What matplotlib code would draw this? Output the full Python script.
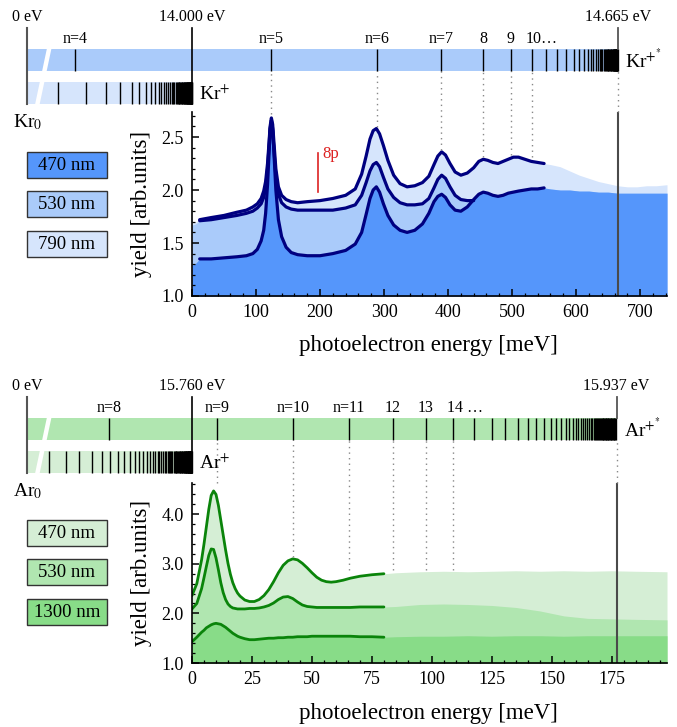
import matplotlib
matplotlib.use("Agg")
import matplotlib.pyplot as plt
from matplotlib.patches import Rectangle
from matplotlib.ticker import MultipleLocator, FormatStrFormatter

plt.rcParams['font.family'] = ['Liberation Serif', 'DejaVu Serif']
plt.rcParams['mathtext.fontset'] = 'stix'

W, H = 677, 727

# ---------------- Kr data (photoelectron energy in meV, yield) ----------------
kr_fit_e = [12, 30, 50, 70, 85, 95, 102, 108, 112, 115, 118, 120, 122, 124, 126,
            128, 131, 135, 140, 147, 155, 165, 180, 200, 220, 240, 255, 265, 272, 278,
            283, 288, 293, 299, 306, 315, 325, 336, 348, 360, 370, 378, 384, 390, 396,
            403, 411, 420, 430, 440, 448, 455, 462, 470, 478, 486, 494, 502, 510, 520,
            530, 540, 550]
kr_fit_790 = [1.72, 1.74, 1.76, 1.79, 1.81, 1.84, 1.87, 1.92, 1.99, 2.08,
              2.25, 2.42, 2.60, 2.68, 2.62, 2.45, 2.20, 2.03, 1.95, 1.91,
              1.89, 1.88, 1.89, 1.90, 1.92, 1.95, 2.01, 2.15, 2.32, 2.48,
              2.56, 2.58, 2.53, 2.42, 2.28, 2.14, 2.06, 2.03, 2.04, 2.07,
              2.13, 2.24, 2.32, 2.36, 2.33, 2.25, 2.17, 2.14, 2.16, 2.21,
              2.27, 2.29, 2.28, 2.26, 2.25, 2.27, 2.29, 2.31, 2.31, 2.29,
              2.27, 2.26, 2.25]
kr_fit_530 = [1.71, 1.72, 1.74, 1.76, 1.78, 1.80, 1.83, 1.87, 1.93, 2.02,
              2.20, 2.38, 2.58, 2.64, 2.56, 2.38, 2.13, 1.96, 1.88, 1.84,
              1.82, 1.81, 1.81, 1.81, 1.81, 1.83, 1.86, 1.95, 2.07, 2.18,
              2.24, 2.26, 2.22, 2.12, 2.01, 1.93, 1.88, 1.86, 1.86, 1.87,
              1.92, 2.02, 2.10, 2.14, 2.11, 2.03, 1.95, 1.91, 1.90, 1.90]
kr_fit_470 = [1.35, 1.35, 1.36, 1.37, 1.38, 1.40, 1.44, 1.52, 1.62, 1.78,
              2.05, 2.30, 2.55, 2.66, 2.58, 2.35, 2.00, 1.72, 1.56, 1.46,
              1.41, 1.39, 1.38, 1.38, 1.40, 1.43, 1.49, 1.60, 1.77, 1.92,
              2.00, 2.03, 1.98, 1.87, 1.76, 1.67, 1.62, 1.60, 1.62, 1.68,
              1.78, 1.89, 1.94, 1.96, 1.93, 1.86, 1.81, 1.80, 1.84, 1.91,
              1.96, 1.98, 1.97, 1.95, 1.94, 1.95, 1.97, 1.98, 1.99, 2.00,
              2.01, 2.01, 2.02]
kr_head_e = [0, 6]
kr_head_790 = [1.69, 1.70]
kr_head_530 = [1.67, 1.68]
kr_head_470 = [1.29, 1.31]
kr_tail_e = [560, 575, 590, 605, 620, 635, 650, 665, 680, 695, 710, 725, 742]
kr_tail_790 = [2.24, 2.22, 2.18, 2.14, 2.11, 2.08, 2.06, 2.04, 2.03, 2.03, 2.04, 2.04, 2.05]
kr_tail_470 = [2.01, 2.00, 2.00, 1.99, 1.99, 1.98, 1.98, 1.97, 1.97, 1.97, 1.97, 1.97, 1.97]

# Kr+* series (meV above 14.000 eV), limit 14.665 eV
kr_limit = 665
kr_levels = [-182, 123, 289, 389, 455, 498, 531, 553, 570, 585, 596, 605, 612, 618,
             623, 627, 631, 634, 637, 639, 641, 643, 645, 646, 648, 649.5, 650.5, 652,
             653, 654, 655, 656, 657, 657.8, 658.5, 659.2, 659.8, 660.4, 660.9, 661.4,
             661.8, 662.2, 662.6, 663, 663.3, 663.6, 663.9, 664.2, 664.5, 664.7]
kr_level_labels = ['n=4', 'n=5', 'n=6', 'n=7', '8', '9', '10…']
kr_dot_stop = [2.72, 2.59, 2.38, 2.31, 2.33, 2.31]
# Kr0 -> Kr+ series, as fraction of the broken 0 .. 14.000 eV bar
kr0_levels = [0.189, 0.355, 0.480, 0.566, 0.634, 0.681, 0.721, 0.751, 0.777, 0.797,
              0.815, 0.831, 0.845, 0.857, 0.867, 0.877, 0.886, 0.893, 0.901, 0.907,
              0.913, 0.919, 0.924, 0.929, 0.934, 0.938, 0.942, 0.946, 0.949, 0.953,
              0.956, 0.959, 0.962, 0.965, 0.967, 0.969, 0.972, 0.974, 0.976, 0.978,
              0.980, 0.981, 0.983, 0.985, 0.987, 0.988, 0.990, 0.991, 0.992, 0.993,
              0.995, 0.996, 0.997, 0.998]

# ---------------- Ar data ----------------
ar_fit_e = [0, 2, 4, 5, 6, 7, 8, 9, 10, 11, 12, 13, 14, 15, 16, 17, 18, 19, 20, 22,
            24, 26, 28, 30, 32, 34, 36, 38, 40, 42, 44, 46, 48, 50, 52, 54, 56, 58, 60,
            63, 66, 70, 75, 80]
ar_fit_470 = [2.36, 2.60, 3.08, 3.40, 3.75, 4.10, 4.38, 4.47, 4.40, 4.18,
              3.88, 3.58, 3.28, 3.01, 2.79, 2.62, 2.50, 2.41, 2.35, 2.27,
              2.24, 2.24, 2.28, 2.36, 2.48, 2.64, 2.82, 2.97, 3.06, 3.10,
              3.08, 3.01, 2.92, 2.82, 2.73, 2.67, 2.64, 2.63, 2.64, 2.67,
              2.71, 2.75, 2.78, 2.80]
ar_fit_530 = [2.09, 2.20, 2.50, 2.72, 2.95, 3.17, 3.30, 3.29, 3.12, 2.88,
              2.62, 2.42, 2.28, 2.19, 2.14, 2.11, 2.10, 2.09, 2.09, 2.09,
              2.10, 2.10, 2.11, 2.13, 2.16, 2.21, 2.28, 2.33, 2.34, 2.30,
              2.23, 2.17, 2.14, 2.13, 2.12, 2.12, 2.12, 2.12, 2.12, 2.12,
              2.12, 2.13, 2.13, 2.13]
ar_fit_1300 = [1.43, 1.52, 1.62, 1.66, 1.71, 1.74, 1.77, 1.79, 1.80, 1.79,
               1.78, 1.75, 1.72, 1.68, 1.64, 1.60, 1.57, 1.54, 1.52, 1.49,
               1.47, 1.47, 1.48, 1.49, 1.50, 1.50, 1.51, 1.51, 1.52, 1.52,
               1.53, 1.53, 1.53, 1.54, 1.54, 1.54, 1.54, 1.54, 1.54, 1.54,
               1.54, 1.53, 1.53, 1.52]
ar_tail_e = [85, 95, 105, 115, 125, 135, 145, 155, 165, 175, 185, 198]
ar_tail_470 = [2.82, 2.84, 2.85, 2.84, 2.85, 2.86, 2.85, 2.86, 2.85, 2.86, 2.85, 2.84]
ar_tail_530 = [2.14, 2.18, 2.19, 2.18, 2.16, 2.12, 2.05, 1.95, 1.90, 1.89, 1.88, 1.87]
ar_tail_1300 = [1.53, 1.54, 1.54, 1.55, 1.54, 1.55, 1.55, 1.54, 1.55, 1.55, 1.55, 1.55]

ar_limit = 177
ar_levels = [-34.6, 10.3, 42.0, 65.5, 83.6, 97.5, 108.6, 117.6, 124.9, 130.4, 135.7,
             139.9, 143.6, 146.8, 149.6, 151.9, 153.9, 155.7, 157.3, 158.7, 160.0,
             161.1, 162.2, 163.1, 164.0, 164.8, 165.5, 166.2, 166.8, 167.4, 167.9,
             168.4, 168.9, 169.3, 169.7, 170.1, 170.5, 170.8, 171.2, 171.5, 171.8,
             172.1, 172.4, 172.7, 173.0, 173.3, 173.6, 173.9, 174.2, 174.5, 174.8,
             175.1, 175.4, 175.7, 176.0, 176.3, 176.6]
ar_level_labels = ['n=8', 'n=9', 'n=10', 'n=11', '12', '13', '14 …']
ar_dot_stop = [4.63, 3.14, 2.88, 2.87, 2.87, 2.87]
ar0_levels = [0.133, 0.235, 0.313, 0.396, 0.454, 0.506, 0.552, 0.590, 0.625, 0.655,
              0.681, 0.705, 0.725, 0.745, 0.761, 0.777, 0.791, 0.803, 0.815, 0.825,
              0.835, 0.843, 0.852, 0.860, 0.867, 0.875, 0.881, 0.888, 0.894, 0.900,
              0.905, 0.911, 0.916, 0.920, 0.925, 0.930, 0.934, 0.938, 0.942, 0.945,
              0.949, 0.952, 0.955, 0.958, 0.961, 0.963, 0.966, 0.968, 0.970, 0.973,
              0.975, 0.977, 0.978, 0.980, 0.982, 0.984, 0.985, 0.987, 0.988, 0.989,
              0.990, 0.992, 0.993, 0.994, 0.995, 0.996, 0.998]

# spectra = head + fitted region + tail
kr_spec_e = kr_head_e + kr_fit_e + kr_tail_e
kr_spec_790 = kr_head_790 + kr_fit_790 + kr_tail_790
kr_spec_470 = kr_head_470 + kr_fit_470 + kr_tail_470
kr_spec_530 = kr_head_530 + kr_fit_530 + kr_fit_470[len(kr_fit_530):] + kr_tail_470
ar_spec_e = ar_fit_e + ar_tail_e
ar_spec_470 = ar_fit_470 + ar_tail_470
ar_spec_530 = ar_fit_530 + ar_tail_530
ar_spec_1300 = ar_fit_1300 + ar_tail_1300

kr_colors = {'470 nm': '#5596fb', '530 nm': '#aacbfa', '790 nm': '#d6e5fc'}
ar_colors = {'470 nm': '#d5eed5', '530 nm': '#b0e6b0', '1300 nm': '#88dc88'}

fig = plt.figure(figsize=(W / 100, H / 100), dpi=100)


def main_axes(top, bottom):
    return fig.add_axes([192 / W, 1 - bottom / H, 475 / W, (bottom - top) / H])


def style(ax, xmaj, xmin, ymaj, ymin):
    for s in ['top', 'right']:
        ax.spines[s].set_visible(False)
    ax.spines['left'].set_linewidth(1.2)
    ax.spines['bottom'].set_linewidth(1.2)
    ax.xaxis.set_major_locator(MultipleLocator(xmaj))
    ax.xaxis.set_minor_locator(MultipleLocator(xmin))
    ax.yaxis.set_major_locator(MultipleLocator(ymaj))
    ax.yaxis.set_minor_locator(MultipleLocator(ymin))
    ax.yaxis.set_major_formatter(FormatStrFormatter('%.1f'))
    ax.tick_params(which='both', direction='in', labelsize=13)
    ax.tick_params(which='major', length=5, width=1.1)
    ax.tick_params(which='minor', length=2.5, width=0.9)
    ax.tick_params(axis='x', pad=6)
    ax.tick_params(axis='y', pad=6)


axK = main_axes(112, 296)
axK.set_xlim(0, 742)
axK.set_ylim(1.0, 2.736)
style(axK, 100, 20, 0.5, 0.1)
axK.fill_between(kr_spec_e, 1.0, kr_spec_790, color=kr_colors['790 nm'], lw=0)
axK.fill_between(kr_spec_e, 1.0, kr_spec_530, color=kr_colors['530 nm'], lw=0)
axK.fill_between(kr_spec_e, 1.0, kr_spec_470, color=kr_colors['470 nm'], lw=0)
fit_kw = dict(color='#000080', lw=2.3, solid_capstyle='round')
axK.plot(kr_fit_e, kr_fit_790, **fit_kw)
axK.plot(kr_fit_e[:len(kr_fit_530)], kr_fit_530, **fit_kw)
axK.plot(kr_fit_e, kr_fit_470, **fit_kw)
axK.axvline(kr_limit, color='#4a4a4a', lw=1.5)
axK.plot([197, 197], [1.985, 2.35], color='#dd2222', lw=1.2)
axK.text(203, 2.30, '8p', color='#dd2222', fontsize=12, va='baseline')

axA = main_axes(483, 663)
axA.set_xlim(0, 198)
axA.set_ylim(1.0, 4.63)
style(axA, 25, 5, 1.0, 0.2)
axA.fill_between(ar_spec_e, 1.0, ar_spec_470, color=ar_colors['470 nm'], lw=0)
axA.fill_between(ar_spec_e, 1.0, ar_spec_530, color=ar_colors['530 nm'], lw=0)
axA.fill_between(ar_spec_e, 1.0, ar_spec_1300, color=ar_colors['1300 nm'], lw=0)
fit_kw = dict(color='#0a840a', lw=2.0, solid_capstyle='round')
axA.plot(ar_fit_e, ar_fit_470, **fit_kw)
axA.plot(ar_fit_e, ar_fit_530, **fit_kw)
axA.plot(ar_fit_e, ar_fit_1300, **fit_kw)
axA.axvline(ar_limit, color='#4a4a4a', lw=1.5)

ov = fig.add_axes([0, 0, 1, 1])
ov.set_xlim(0, W)
ov.set_ylim(H, 0)
ov.axis('off')


def xpx(ax, e):
    return ax.transData.transform((e, 0))[0]


def ydat(ax, py):
    return ax.transData.inverted().transform((0, H - py))[1]


def panel(ax, y0, levels, labels, dot_stop, limit, lower_levels, up_col, low_col,
          lim_txt, ion_txt, ion2_txt, atom_txt, legend, leg_y):
    up0, up1 = y0 + 21, y0 + 43
    lo0, lo1 = y0 + 54, y0 + 76
    x0 = 27
    xz = xpx(ax, 0)
    xl = xpx(ax, limit)
    ov.add_patch(Rectangle((x0, up0), xl - x0, up1 - up0, fc=up_col, lw=0, zorder=1))
    ov.add_patch(Rectangle((x0, lo0), xz - x0, lo1 - lo0, fc=low_col, lw=0, zorder=1))
    ov.vlines([xpx(ax, e) for e in levels], up0, up1, color='black', lw=1.0, zorder=2)
    ov.vlines([x0 + f * (xz - x0) for f in lower_levels], lo0, lo1, color='black',
              lw=1.0, zorder=2)
    # break marks
    ov.plot([x0 + 22.5, x0 + 10], [up0 - 2, lo1 + 2], color='white', lw=3.2,
            solid_capstyle='butt', zorder=3)
    ov.plot([x0, x0], [y0, lo1], color='#555555', lw=1.5, zorder=3)
    ov.plot([xz, xz], [y0, lo1], color='black', lw=1.2, zorder=3)
    ov.plot([xl, xl], [y0, up0], color='#555555', lw=1.3, zorder=3)
    # dotted guides
    dot_kw = dict(color='#888888', lw=1.0, ls=(0, (1, 3)), clip_on=False)
    top = ydat(ax, up1)
    for e, stop in zip(levels[1:7], dot_stop):
        ax.plot([e, e], [stop, top], **dot_kw)
    ax.plot([limit, limit], [ax.get_ylim()[1], top], **dot_kw)
    # texts
    ov.text(x0, y0 - 7, '0 eV', ha='center', va='baseline', fontsize=11.5)
    ov.text(xz, y0 - 7, lim_txt[0], ha='center', va='baseline', fontsize=11.5)
    ov.text(xl, y0 - 7, lim_txt[1], ha='center', va='baseline', fontsize=11.5)
    for e, lab in zip(levels, labels):
        if lab.endswith('…'):
            ov.text(xpx(ax, e) - 6, up0 - 6, lab, ha='left', va='baseline',
                    fontsize=11.5)
        else:
            ov.text(xpx(ax, e), up0 - 6, lab, ha='center', va='baseline',
                    fontsize=11.5)
    ov.text(xl + 7, up1 - 4, ion2_txt, ha='left', va='baseline', fontsize=14)
    ov.text(xz + 7, lo1 - 4, ion_txt, ha='left', va='baseline', fontsize=14)
    ov.text(13, lo1 + 23, atom_txt, ha='left', va='baseline', fontsize=14)
    for (lab, col), yy in zip(legend.items(), leg_y):
        ov.add_patch(Rectangle((27, yy), 80, 26, fc=col, ec='#333333', lw=1.0))
        ov.text(67, yy + 13.5, lab, ha='center', va='center', fontsize=13.5)


panel(axK, 28, kr_levels, kr_level_labels, kr_dot_stop, kr_limit, kr0_levels,
      '#aacbfa', '#d6e5fc', ['14.000 eV', '14.665 eV'],
      r'Kr$^{+}$', r'Kr$^{+^{*}}$', r'Kr$_0$', kr_colors, [152, 191, 231])
panel(axA, 397, ar_levels, ar_level_labels, ar_dot_stop, ar_limit, ar0_levels,
      '#b0e6b0', '#d5eed5', ['15.760 eV', '15.937 eV'],
      r'Ar$^{+}$', r'Ar$^{+^{*}}$', r'Ar$_0$', ar_colors, [520, 559, 599])

for yc in [204, 573]:
    ov.text(142, yc, 'yield [arb.units]', rotation=90, ha='center', va='center',
            fontsize=16.5)
for yc in [346, 714]:
    ov.text(428, yc, 'photoelectron energy [meV]', ha='center', va='center',
            fontsize=16.5)

fig.savefig('out.png', dpi=100)
